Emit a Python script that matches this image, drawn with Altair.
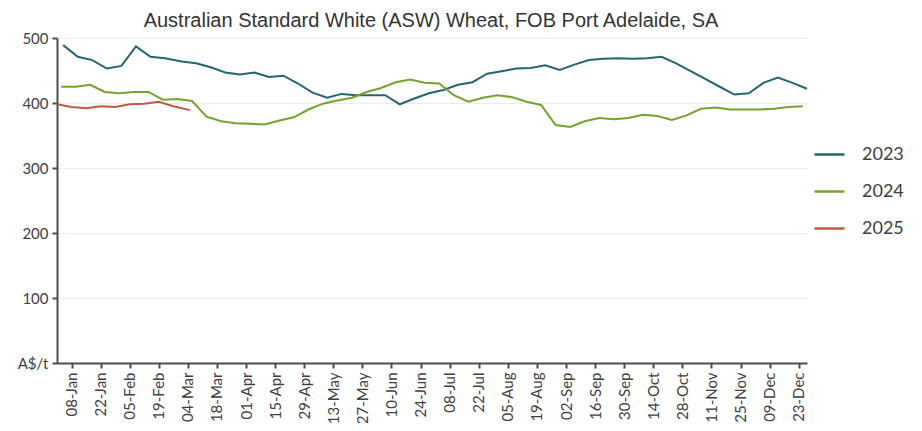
import altair as alt
import pandas as pd

title_text = "Australian Standard White (ASW) Wheat, FOB Port Adelaide, SA"

years = ["2023", "2024", "2025"]
first_weeks = ["2023-01-04", "2024-01-03", "2025-01-01"]

v2023 = [489, 471, 466, 453, 457, 487, 471, 469, 464, 461, 455, 447, 444,
         447, 440, 442, 430, 416, 408, 414, 412, 412, 412, 398, 407, 415,
         420, 428, 432, 445, 449, 453, 454, 458, 451, 459, 466, 468, 469,
         468, 469, 471, 461, 449, 437, 425, 413, 415, 431, 439, 431, 422]
v2024 = [425, 425, 428, 417, 415, 417, 417, 405, 406, 403, 379, 372, 369,
         368, 367, 373, 378, 390, 399, 404, 408, 417, 423, 432, 436, 431,
         430, 412, 402, 408, 412, 409, 402, 397, 366, 363, 372, 377, 375,
         377, 382, 380, 374, 381, 391, 393, 390, 390, 390, 391, 394, 395]
v2025 = [398, 394, 392, 395, 394, 398, 399, 402, 395, 389]

x_tick_dates = ["2024-01-08", "2024-01-22", "2024-02-05", "2024-02-19", "2024-03-04",
                "2024-03-18", "2024-04-01", "2024-04-15", "2024-04-29", "2024-05-13",
                "2024-05-27", "2024-06-10", "2024-06-24", "2024-07-08", "2024-07-22",
                "2024-08-05", "2024-08-19", "2024-09-02", "2024-09-16", "2024-09-30",
                "2024-10-14", "2024-10-28", "2024-11-11", "2024-11-25", "2024-12-09",
                "2024-12-23"]
x_domain = ["2024-01-01", "2024-12-27"]
y_ticks = [0, 100, 200, 300, 400, 500]
colors = ["#24666f", "#76a22f", "#c05a44"]


def ms(s):
    return int(pd.Timestamp(s, tz="UTC").timestamp() * 1000)


rows = []
for yr, start, vals in zip(years, first_weeks, [v2023, v2024, v2025]):
    dates = pd.date_range(start, periods=len(vals), freq="7D")
    for d, v in zip(dates, vals):
        rows.append({"date": "2024-" + d.strftime("%m-%d"), "price": v, "year": yr})
df = pd.DataFrame(rows)

axis_color = "#4d4d4d"
label_color = "#404040"

lines = alt.Chart(df).mark_line(strokeWidth=2).encode(
    x=alt.X(
        "date:T",
        title=None,
        scale=alt.Scale(type="utc", domain=[ms(x_domain[0]), ms(x_domain[1])]),
        axis=alt.Axis(
            values=[ms(d) for d in x_tick_dates],
            labelExpr="utcFormat(datum.value, '%d-%b')",
            labelAngle=270,
            labelAlign="right",
            labelBaseline="middle",
            labelFont="Lato",
            labelFontSize=15,
            labelColor=label_color,
            labelPadding=4,
            labelOverlap=False,
            grid=False,
            domainColor=axis_color,
            domainWidth=2,
            tickColor=axis_color,
            tickWidth=2,
            tickSize=5,
        ),
    ),
    y=alt.Y(
        "price:Q",
        title=None,
        scale=alt.Scale(domain=[0, 500], nice=False, zero=True),
        axis=alt.Axis(
            values=y_ticks,
            labelExpr="datum.value == 0 ? 'A$/t' : datum.label",
            labelFont="Lato",
            labelFontSize=15,
            labelColor=label_color,
            labelPadding=4,
            grid=True,
            gridColor="#ececec",
            gridWidth=1,
            domainColor=axis_color,
            domainWidth=2,
            tickColor=axis_color,
            tickWidth=2,
            tickSize=5,
        ),
    ),
    color=alt.Color(
        "year:N",
        scale=alt.Scale(domain=years, range=colors),
        legend=alt.Legend(
            title=None,
            orient="none",
            legendX=756,
            legendY=100,
            symbolType="stroke",
            symbolSize=900,
            symbolStrokeWidth=2.5,
            labelFont="Lato",
            labelFontSize=18,
            labelColor=label_color,
            labelOffset=16,
            rowPadding=11,
            padding=0,
        ),
    ),
)

title_mark = alt.Chart(pd.DataFrame({"t": [title_text]})).mark_text(
    font="Liberation Sans",
    fontSize=20,
    color="#333333",
    align="center",
    baseline="alphabetic",
).encode(
    text="t:N",
    x=alt.value(374),
    y=alt.value(-11.5),
)

chart = alt.layer(lines, title_mark).properties(
    width=750,
    height=325,
    autosize=alt.AutoSizeParams(type="none"),
    padding={"left": 49, "top": 30, "right": 100, "bottom": 60},
).configure_view(stroke=None)

chart.save("out.html", embed_options={"renderer": "svg", "actions": False})
